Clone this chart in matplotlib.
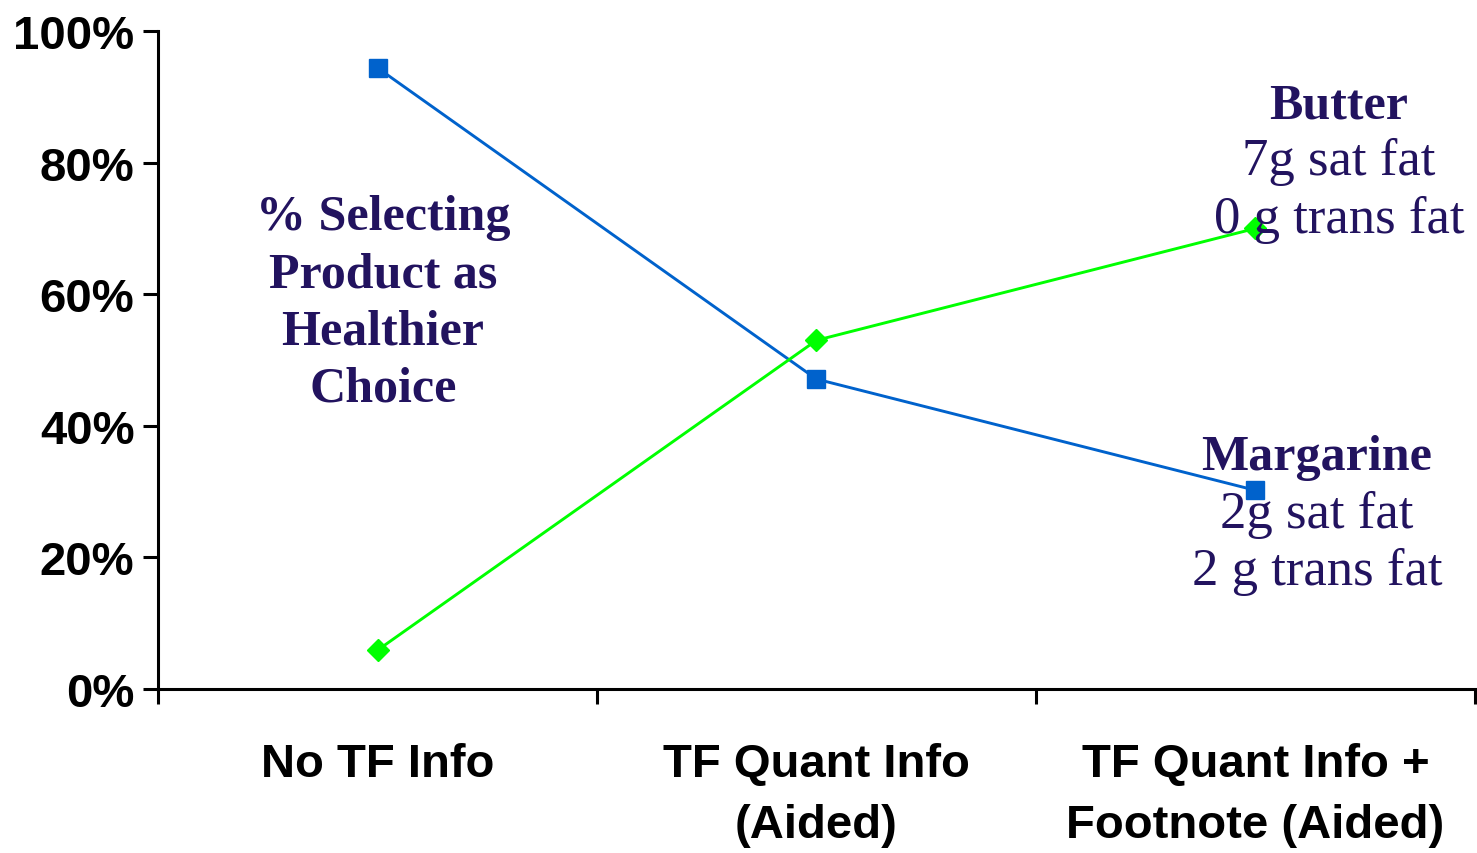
import matplotlib
matplotlib.use("Agg")
import matplotlib.pyplot as plt
import numpy as np

categories = ["No TF Info", "TF Quant Info\n(Aided)", "TF Quant Info +\nFootnote (Aided)"]
margarine = [94.4, 47.1, 30.2]
butter = [5.9, 53.0, 70.0]
y_ticks = [0, 20, 40, 60, 80, 100]

navy = "#22135f"
sans = ["Liberation Sans", "DejaVu Sans"]
serif = ["Liberation Serif", "DejaVu Serif"]

fig = plt.figure(figsize=(14.77, 8.54), dpi=100)
ax = fig.add_axes([0.107, 0.192, 0.8916, 0.7705])

x = np.arange(len(categories))
ax.plot(x, margarine, color="#0062cc", lw=2.1, marker="s", ms=13.5, zorder=3)
ax.plot(x, butter, color="#00ff00", lw=2.1, marker="D", ms=11, zorder=3)

ax.set_xlim(-0.5, len(categories) - 0.5)
ax.set_ylim(0, 100)

for side in ["top", "right"]:
    ax.spines[side].set_visible(False)
for side in ["left", "bottom"]:
    ax.spines[side].set_linewidth(2.2)

# separator ticks between categories, labels under each category
ax.set_xticks(np.arange(len(categories) + 1) - 0.5)
ax.set_xticklabels([])
ax.set_xticks(x, minor=True)
ax.set_xticklabels(categories, minor=True, family=sans, fontweight="bold",
                   fontsize=34, linespacing=1.52, va="top")
ax.tick_params(axis="x", which="major", length=11, width=2.2, direction="out")
ax.tick_params(axis="x", which="minor", length=0, pad=38)

ax.set_yticks(y_ticks)
ax.set_yticklabels([f"{v}%" for v in y_ticks], family=sans, fontweight="bold", fontsize=34)
ax.tick_params(axis="y", length=11, width=2.2, direction="out", pad=6)


def stacked(xpos, top, lines, step=8.7):
    # one text per line, baselines step apart (in % units)
    for i, (txt, bold) in enumerate(lines):
        ax.text(xpos, top - i * step, txt, ha="center", va="baseline", family=serif,
                fontweight="bold" if bold else "normal", fontsize=36 if bold else 38,
                color=navy)


stacked(0.012, 69.9, [("% Selecting", True), ("Product as", True),
                      ("Healthier", True), ("Choice", True)])
stacked(2.19, 86.9, [("Butter", True), ("7g sat fat", False), ("0 g trans fat", False)])
stacked(2.14, 33.4, [("Margarine", True), ("2g sat fat", False), ("2 g trans fat", False)])

fig.savefig("out.png", dpi=100)
